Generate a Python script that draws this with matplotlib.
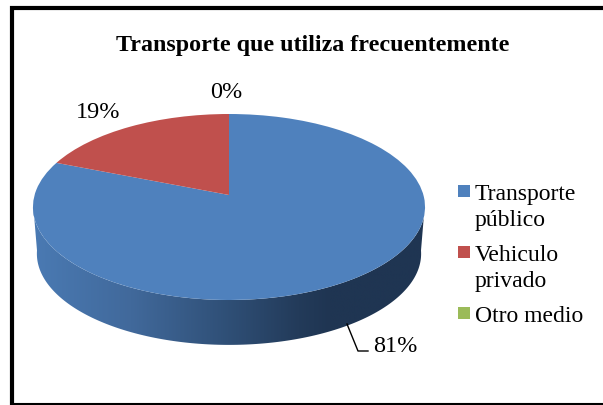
import numpy as np
import matplotlib
matplotlib.use('Agg')
import matplotlib.pyplot as plt
from matplotlib.patches import Polygon, Rectangle
from matplotlib.transforms import Transform
from matplotlib.colors import LinearSegmentedColormap

plt.rcParams['font.family'] = ['Liberation Serif', 'DejaVu Serif']

title = 'Transporte que utiliza frecuentemente'
categories = ['Transporte\npúblico', 'Vehiculo\nprivado', 'Otro medio']
values = [81, 19, 0]
colors = ['#4f81bd', '#c0504d', '#9bbb59']


# unit circle -> picture pixels, the pie is tilted with some perspective
class Tilt(Transform):
    input_dims = 2
    output_dims = 2

    def __init__(self, cx=229, cy=196, a=194.4, b=91.45, k=0.129, scale=1.0, dy=0):
        super().__init__()
        self.p = (cx, cy, a, b, k, scale, dy)

    def transform_non_affine(self, pts):
        cx, cy, a, b, k, scale, dy = self.p
        pts = np.asarray(pts)
        w = 1 + k * pts[:, 1]
        x = cx + scale * a * pts[:, 0] / w
        y = cy + dy - scale * b * pts[:, 1] / w
        return np.column_stack([x, y])


fig = plt.figure(figsize=(6.03, 4.06), dpi=100)
ax = fig.add_axes([0, 0, 1, 1])

wedges, _ = ax.pie(values, colors=colors, startangle=90, counterclock=False)
ax.set_aspect('auto')
ax.set_xlim(0, 603)
ax.set_ylim(406, 0)
ax.axis('off')

top = Tilt()
low = Tilt(scale=0.98, dy=47)

# side of the pie: the front half of the blue slice with a dark gradient
t = np.linspace(np.pi * 1.03, np.pi * 1.97, 200)
circle = np.column_stack([np.cos(t), np.sin(t)])
side_pts = np.vstack([top.transform(circle), low.transform(circle)[::-1]])
side = Polygon(side_pts, closed=True, facecolor='none', edgecolor='none')
ax.add_patch(side)
cmap = LinearSegmentedColormap.from_list('side', [(0, '#4a7ab3'), (0.25, '#41699b'), (0.5, '#2f4f76'),
                                                  (0.68, '#233b5a'), (0.76, '#1f3552'), (1, '#1f3552')])
im = ax.imshow(np.linspace(0, 1, 256).reshape(1, -1), cmap=cmap, extent=(33, 424, 346, 205),
               aspect='auto', zorder=1)
im.set_clip_path(side)
ax.set_xlim(0, 603)
ax.set_ylim(406, 0)

for w in wedges:
    w.set_transform(top + ax.transData)
    w.set_edgecolor('none')
    w.set_zorder(2)

# data labels
ax.text(98.5, 112, f'{values[1]}%', fontsize=17.5, ha='center', va='center')
ax.text(226, 93, f'{values[2]}%', fontsize=17.5, ha='center', va='center')
ax.text(395, 347, f'{values[0]}%', fontsize=17.5, ha='center', va='center')
ax.plot([347, 358, 368], [325, 352, 352], color='black', lw=1.0, zorder=3)

ax.text(312.5, 45, title, fontsize=17.3, fontweight='bold', ha='center', va='center')

# legend
box_y = [192, 253, 314]
text_y = [207.5, 268.5, 317]
for c, lab, by, ty in zip(colors, categories, box_y, text_y):
    ax.add_patch(Rectangle((458, by - 6), 12, 12, facecolor=c, edgecolor='none'))
    ax.text(475, ty, lab, fontsize=17, ha='left', va='center', linespacing=1.35)

# frame, only left, top and bottom show in the picture
ax.plot([603, 12, 12], [9, 9, 405], color='black', lw=3.0, solid_joinstyle='miter', zorder=5)
ax.plot([12, 603], [405, 405], color='black', lw=1.5, zorder=5)

fig.savefig('out.png', dpi=100)
